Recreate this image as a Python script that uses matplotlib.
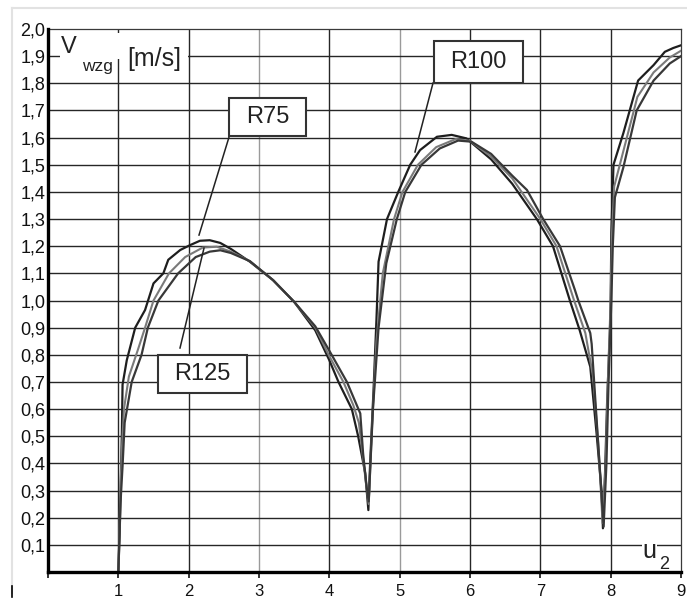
import matplotlib
matplotlib.use("Agg")
import matplotlib.pyplot as plt
from matplotlib.patches import Rectangle
from matplotlib.lines import Line2D
import numpy as np

plt.rcParams['font.family'] = ['Liberation Sans', 'DejaVu Sans']

# ---- data ----
r75_x = [1.0, 1.02, 1.05, 1.06, 1.12, 1.24, 1.38, 1.50, 1.64, 1.71, 1.88, 2.02, 2.16, 2.30, 2.45,
         2.60, 2.87, 3.20, 3.50, 3.80, 4.00, 4.13, 4.32, 4.41, 4.51, 4.555,
         4.58, 4.63, 4.67, 4.70, 4.82, 4.98, 5.15, 5.29, 5.53, 5.74, 5.95, 6.30, 6.60, 6.95,
         7.18, 7.42, 7.56, 7.71, 7.80, 7.87, 7.89,
         7.92, 7.95, 7.99, 8.00, 8.01, 8.04, 8.18, 8.39, 8.61, 8.77, 8.89, 9.0]
r75_y = [0.0, 0.15, 0.51, 0.69, 0.78, 0.90, 0.965, 1.063, 1.10, 1.15, 1.186, 1.204, 1.22, 1.222, 1.212,
         1.19, 1.143, 1.075, 0.995, 0.89, 0.78, 0.70, 0.60, 0.50, 0.364, 0.228,
         0.40, 0.68, 0.93, 1.143, 1.30, 1.40, 1.50, 1.554, 1.603, 1.61, 1.597, 1.52, 1.43, 1.30,
         1.20, 1.00, 0.89, 0.756, 0.51, 0.30, 0.161,
         0.364, 0.63, 0.89, 1.00, 1.25, 1.50, 1.616, 1.81, 1.867, 1.916, 1.93, 1.94]

r100_x = [1.0, 1.03, 1.05, 1.08, 1.15, 1.28, 1.38, 1.50, 1.72, 1.95, 2.20, 2.40, 2.60, 2.87, 3.20,
          3.50, 3.80, 4.00, 4.20, 4.34, 4.42, 4.47, 4.52, 4.56,
          4.61, 4.67, 4.76, 4.92, 5.04, 5.26, 5.52, 5.80, 6.00, 6.30, 6.60, 7.00, 7.23, 7.48,
          7.64, 7.75, 7.83, 7.885,
          7.93, 7.96, 8.00, 8.02, 8.05, 8.18, 8.38, 8.61, 8.84, 9.0]
r100_y = [0.0, 0.30, 0.45, 0.60, 0.72, 0.82, 0.90, 1.00, 1.10, 1.16, 1.195, 1.198, 1.18, 1.145, 1.075,
          0.995, 0.90, 0.795, 0.70, 0.615, 0.55, 0.44, 0.33, 0.25,
          0.55, 0.85, 1.10, 1.30, 1.40, 1.50, 1.565, 1.595, 1.588, 1.53, 1.45, 1.30, 1.20, 1.00,
          0.88, 0.72, 0.45, 0.18,
          0.40, 0.70, 1.00, 1.25, 1.42, 1.55, 1.75, 1.84, 1.895, 1.92]

r125_x = [1.0, 1.03, 1.06, 1.09, 1.19, 1.33, 1.42, 1.57, 1.85, 2.10, 2.30, 2.45, 2.60, 2.87, 3.20,
          3.50, 3.80, 4.00, 4.25, 4.44, 4.48, 4.53, 4.56,
          4.62, 4.70, 4.81, 4.96, 5.08, 5.31, 5.57, 5.83, 6.02, 6.30, 6.60, 6.81, 7.04, 7.28,
          7.49, 7.54, 7.71, 7.73, 7.90,
          7.94, 7.97, 8.01, 8.03, 8.06, 8.18, 8.37, 8.61, 8.84, 9.0]
r125_y = [0.0, 0.25, 0.39, 0.55, 0.70, 0.80, 0.90, 1.00, 1.10, 1.16, 1.18, 1.185, 1.175, 1.145, 1.075,
          0.995, 0.905, 0.815, 0.70, 0.584, 0.437, 0.314, 0.26,
          0.60, 0.90, 1.137, 1.30, 1.40, 1.50, 1.56, 1.589, 1.585, 1.54, 1.46, 1.407, 1.30, 1.20,
          1.04, 1.00, 0.88, 0.84, 0.167,
          0.40, 0.70, 1.00, 1.20, 1.38, 1.49, 1.70, 1.81, 1.873, 1.90]

x_ticks = [0, 1, 2, 3, 4, 5, 6, 7, 8, 9]
x_tick_labels = ["", "1", "2", "3", "4", "5", "6", "7", "8", "9"]
y_ticks = [round(0.1 * i, 1) for i in range(21)]
y_tick_labels = [""] + [f"{v:.1f}".replace(".", ",") for v in y_ticks[1:]]

# ---- figure ----
fig = plt.figure(figsize=(6.87, 5.99), dpi=100)
fig.patch.set_facecolor("white")
ax = fig.add_axes([48 / 687, 27 / 599, 633 / 687, 543 / 599])
ax.set_xlim(0, 9)
ax.set_ylim(0, 2.0)

# grid
for xv in x_ticks[1:-1]:
    c = "#9a9a9a" if xv in (3, 5) else "#262626"
    ax.axvline(xv, color=c, lw=1.0, zorder=0.5)
for yv in y_ticks[1:-1]:
    ax.axhline(yv, color="#262626", lw=1.0, zorder=0.5)

for s in ("top", "right"):
    ax.spines[s].set_color("#3a3a3a")
    ax.spines[s].set_linewidth(0.9)
for s in ("left", "bottom"):
    ax.spines[s].set_color("black")
    ax.spines[s].set_linewidth(2.4)
    ax.spines[s].set_zorder(5)

ax.set_xticks(x_ticks)
ax.set_xticklabels(x_tick_labels)
ax.set_yticks(y_ticks)
ax.set_yticklabels(y_tick_labels)
ax.tick_params(axis="x", direction="out", length=4, width=1.2, pad=5, labelsize=12, colors="#111")
ax.tick_params(axis="y", length=0, pad=2, labelsize=13, colors="#111")

# curves
ax.plot(r75_x, r75_y, color="#1e1e1e", lw=1.6, zorder=3)
ax.plot(r100_x, r100_y, color="#7a7a7a", lw=1.5, zorder=3)
ax.plot(r125_x, r125_y, color="#383838", lw=1.6, zorder=3)

# axis title box
ax.add_patch(Rectangle((0.17, 1.89), 1.82, 0.097, facecolor="white", edgecolor="none", zorder=1))
ax.text(0.19, 1.912, "V", fontsize=17, color="#222", zorder=6)
ax.text(0.48, 1.846, "wzg", fontsize=12.5, color="#222", zorder=6)
ax.text(1.13, 1.862, "[m/s]", fontsize=18, color="#222", zorder=6)

# u2 label
ax.text(8.45, 0.052, "u", fontsize=18, color="#222", zorder=6,
        bbox=dict(facecolor="white", edgecolor="none", pad=0.5))
ax.text(8.69, 0.012, "2", fontsize=13, color="#222", zorder=6)

# label boxes with leaders
boxes = [
    ("R75", (2.574, 1.606), (3.668, 1.746), (2.574, 1.602), (2.147, 1.241)),
    ("R125", (1.564, 0.659), (2.830, 0.799), (1.877, 0.825), (2.218, 1.193)),
    ("R100", (5.488, 1.801), (6.754, 1.956), (5.474, 1.801), (5.218, 1.547)),
]
for label, (x0, y0), (x1, y1), (lx0, ly0), (lx1, ly1) in boxes:
    ax.plot([lx0, lx1], [ly0, ly1], color="#222", lw=1.1, zorder=4)
    ax.add_patch(Rectangle((x0, y0), x1 - x0, y1 - y0, facecolor="white",
                           edgecolor="#333", lw=1.5, zorder=5))
    ax.text((x0 + x1) / 2, (y0 + y1) / 2, label, fontsize=17, color="#222",
            ha="center", va="center", zorder=6)

# faint page border
fig.add_artist(Line2D([12 / 687, 1.0], [1 - 8 / 599, 1 - 8 / 599], color="#e2e2e2", lw=1.5))
fig.add_artist(Line2D([12 / 687, 12 / 687], [1 - 8 / 599, 6 / 599], color="#e2e2e2", lw=1.5))
fig.add_artist(Line2D([12 / 687, 12 / 687], [2 / 599, 13 / 599], color="black", lw=1.2))

fig.savefig("out.png", dpi=100, facecolor="white")
